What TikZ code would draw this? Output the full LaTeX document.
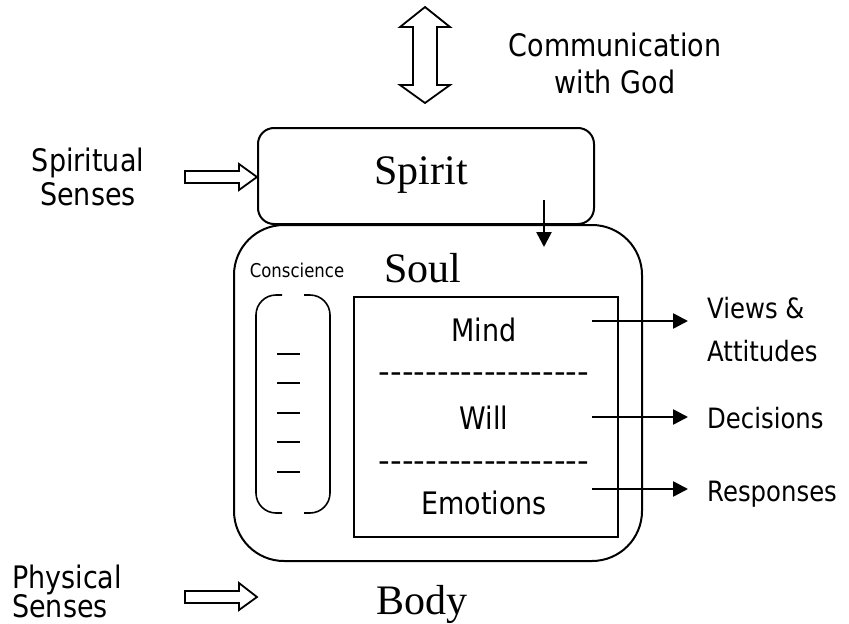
\documentclass[tikz,border=0pt]{standalone}
\usepackage{fontspec}
\setmainfont{DejaVu Sans}[FakeStretch=0.87]
\newfontfamily\seriffont{Liberation Serif}
\usetikzlibrary{arrows.meta}
\newcommand\hy{-\kern0pt}
\begin{document}
\begin{tikzpicture}[x=1pt,y=-1pt,
  lbl/.style={inner sep=0pt, anchor=base, font=\fontsize{31}{37}\selectfont},
  lblw/.style={lbl, anchor=base west},
  outlbl/.style={inner sep=0pt, anchor=base west, font=\fontsize{28}{33}\selectfont},
  big/.style={inner sep=0pt, anchor=base, font=\seriffont\fontsize{42}{50}\selectfont},
  box/.style={draw, line width=2pt, inner sep=0pt},
  thinline/.style={line width=1.6pt},
  arr/.style={line width=2.6pt, -{Triangle[length=15pt,width=15pt]}},
  blockarrow/.style={draw, line width=1.8pt, fill=white, line join=miter}]
\path[use as bounding box] (0,0) rectangle (849,624);

% soul and spirit boxes
\node[box, rounded corners=50pt, minimum width=408pt, minimum height=336pt, anchor=north west] (soul) at (233,224) {};
\node[box, fill=white, rounded corners=16pt, minimum width=336pt, minimum height=96pt, anchor=north west] (spirit) at (257,127) {};
\node[box, minimum width=264pt, minimum height=240pt, anchor=north west] (inner) at (353,296) {};

% titles
\node[big] (tspirit) at (421,184) {Spirit};
\node[big] (tsoul) at (423,282) {Soul};
\node[big] (tbody) at (422,614) {Body};

% top double arrow
\draw[blockarrow] (425,7) -- (450,27) -- (437,27) -- (437,85) -- (450,85) -- (425,103)
  -- (400,85) -- (413,85) -- (413,27) -- (400,27) -- cycle;
\node[lbl] (comm1) at (615,56) {Communication};
\node[lbl] (comm2) at (615,93) {with God};

% spiritual senses
\node[lbl] (ss1) at (88,171) {Spiritual};
\node[lbl] (ss2) at (88,205) {Senses};
\draw[blockarrow] (185,171) -- (239,171) -- (239,164) -- (257,177) -- (239,190) -- (239,183) -- (185,183) -- cycle;

% physical senses
\node[lblw] (ps1) at (12,588) {Physical};
\node[lblw] (ps2) at (12,617) {Senses};
\draw[blockarrow] (185,591) -- (239,591) -- (239,583) -- (257,597) -- (239,610) -- (239,603) -- (185,603) -- cycle;

% spirit to soul arrow
\coordinate (d1) at (544,200);
\coordinate (d2) at (544,247);
\draw[arr] (d1) -- (d2);

% conscience
\node[inner sep=0pt, anchor=base, font=\fontsize{19}{23}\selectfont] (consc) at (297,277) {Conscience};
\draw[thinline, rounded corners=20pt] (282,295) -- (256,295) -- (256,513) -- (282,513);
\draw[thinline, rounded corners=20pt] (304,295) -- (330,295) -- (330,513) -- (304,513);
\foreach \yy in {354,383,413,442,472}
  \draw[thinline] (277,\yy) -- (300,\yy);

% mind will emotions
\node[lbl] (mind) at (484,341) {Mind};
\node[lbl] (dash1) at (484,382) {\scalebox{1.2}[1]{\hy\hy\hy\hy\hy\hy\hy\hy\hy\hy\hy\hy\hy\hy\hy\hy\hy\hy}};
\node[lbl] (will) at (484,429) {Will};
\node[lbl] (dash2) at (484,471) {\scalebox{1.2}[1]{\hy\hy\hy\hy\hy\hy\hy\hy\hy\hy\hy\hy\hy\hy\hy\hy\hy\hy}};
\node[lbl] (emo) at (484,514) {Emotions};

% outputs
\node[outlbl] (views) at (707,318) {Views \&};
\node[outlbl] (att) at (707,361) {Attitudes};
\node[outlbl] (dec) at (707,428) {Decisions};
\node[outlbl] (resp) at (707,501) {Responses};
\coordinate (a1) at (592,321); \coordinate (b1) at (688,321);
\coordinate (a2) at (592,417); \coordinate (b2) at (688,417);
\coordinate (a3) at (592,489); \coordinate (b3) at (688,489);
\draw[arr] (a1) -- (b1);
\draw[arr] (a2) -- (b2);
\draw[arr] (a3) -- (b3);
\end{tikzpicture}
\end{document}
